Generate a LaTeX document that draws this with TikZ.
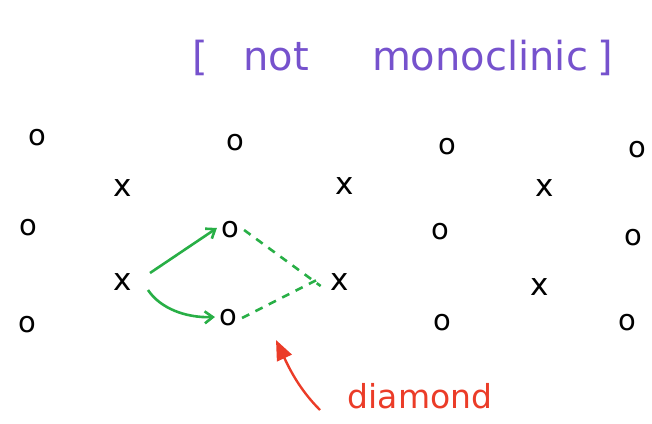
\documentclass[tikz,border=0pt]{standalone}
\usepackage{fontspec}
\setmainfont{DejaVu Sans}
\usetikzlibrary{arrows.meta}
\definecolor{hpurple}{RGB}{118,82,205}
\definecolor{hgreen}{RGB}{40,175,70}
\definecolor{hred}{RGB}{235,60,40}
\tikzset{
  ob/.style={font=\fontsize{29}{29}\selectfont, inner sep=0pt, text=black},
  xb/.style={font=\fontsize{31}{31}\selectfont, inner sep=0pt, text=black},
  ttl/.style={text=hpurple, font=\fontsize{40}{40}\selectfont, inner sep=0pt, anchor=base},
  garrow/.style={draw=hgreen, line width=2.6pt, -{Straight Barb[length=8pt,width=12pt]}},
  gdash/.style={draw=hgreen, line width=2.6pt, dash pattern=on 8pt off 7pt},
  rarrow/.style={draw=hred, line width=2.4pt, -{Triangle[length=20pt,width=16pt]}},
}
\begin{document}
\begin{tikzpicture}[x=1pt,y=-1pt]
\useasboundingbox (0,0) rectangle (652,423);
\node[ttl] (lb) at (200,70) {[};
\node[ttl] (t1) at (276,70) {not};
\node[ttl] (t2) at (480,70) {monoclinic};
\node[ttl] (rb) at (605,70) {]};
% row 1 o
\node[ob] (o11) at (37,138) {o};
\node[ob] (o12) at (235,143) {o};
\node[ob] (o13) at (447,147) {o};
\node[ob] (o14) at (637,150) {o};
% row x1
\node[xb] (x11) at (123,188) {x};
\node[xb] (x12) at (345,186) {x};
\node[xb] (x13) at (545,188) {x};
% row 2 o
\node[ob] (o21) at (28,228) {o};
\node[ob] (o22) at (230,230) {o};
\node[ob] (o23) at (440,232) {o};
\node[ob] (o24) at (633,238) {o};
% row x2
\node[xb] (x21) at (123,282) {x};
\node[xb] (x22) at (340,282) {x};
\node[xb] (x23) at (540,287) {x};
% row 3 o
\node[ob] (o31) at (27,325) {o};
\node[ob] (o32) at (228,318) {o};
\node[ob] (o33) at (442,323) {o};
\node[ob] (o34) at (627,323) {o};
% green arrows
\coordinate (a1s) at (150,273);
\coordinate (a2s) at (148,290);
\draw[garrow] (a1s) -- ([xshift=-4pt,yshift=2pt]o22.west);
\draw[garrow] (a2s) .. controls (160,308) and (185,318) .. ([xshift=-4pt,yshift=1pt]o32.west);
\draw[gdash] ([xshift=5pt]o22.east) -- ([xshift=-10pt,yshift=-4pt]x22.west);
\draw[gdash] ([xshift=5pt]o32.east) -- ([xshift=-10pt,yshift=4pt]x22.west);
% red arrow
\node[text=hred, font=\fontsize{33}{33}\selectfont, anchor=center] (lab) at (420,396) {diamond};
\coordinate (rs) at (320,410);
\draw[rarrow] (rs) .. controls (300,390) and (290,370) .. (276,340);
\end{tikzpicture}
\end{document}
